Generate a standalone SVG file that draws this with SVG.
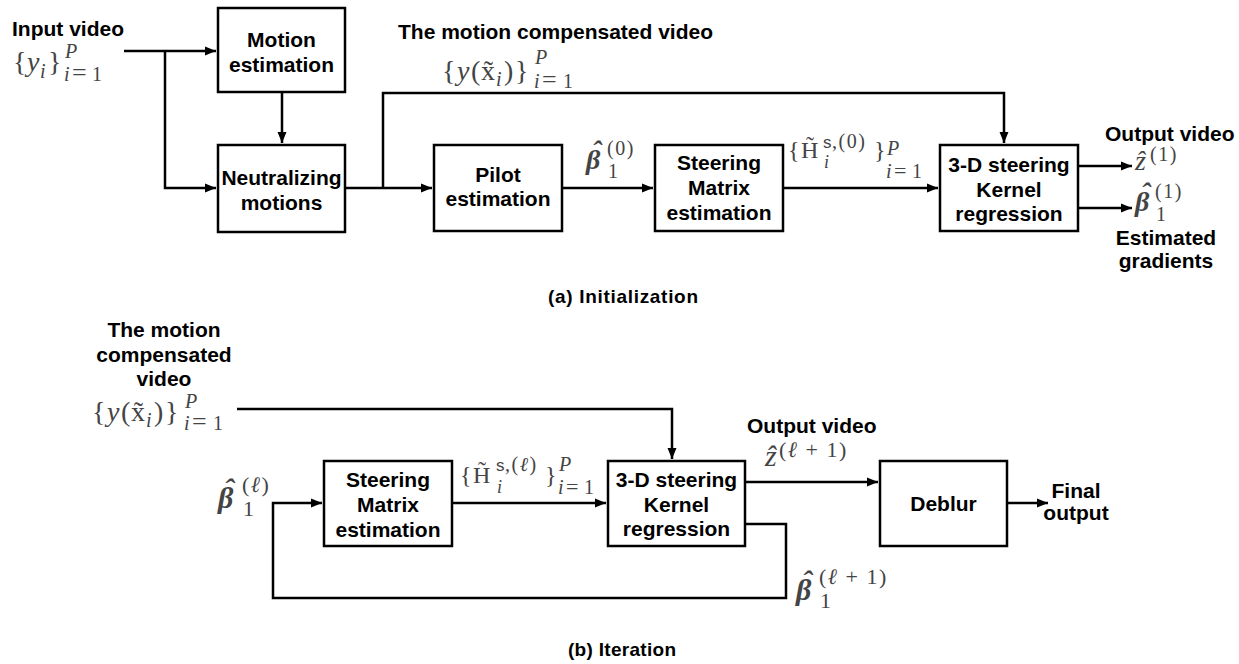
<svg xmlns="http://www.w3.org/2000/svg" width="1239" height="664" viewBox="0 0 1239 664">
<style>
.box{fill:#fff;stroke:#000;stroke-width:2.5}
.t{font-family:"Liberation Sans",Arial,sans-serif;font-size:21px;font-weight:bold;fill:#000;text-anchor:middle}
.l{font-family:"Liberation Sans",Arial,sans-serif;font-size:21px;font-weight:bold;fill:#000}
.cap{font-family:"Liberation Sans",Arial,sans-serif;font-size:19px;font-weight:bold;fill:#000}
.m{font-family:"Liberation Serif","DejaVu Serif",serif;fill:#444}
.it{font-style:italic}
.bi{font-style:italic;font-weight:bold}
.sf{font-family:"Liberation Sans",sans-serif}
.ls{letter-spacing:1.5px}
.c{fill:none;stroke:#000;stroke-width:2.5}
</style>
<defs>
<marker id="ah" markerUnits="userSpaceOnUse" markerWidth="12" markerHeight="10" refX="11" refY="5" orient="auto">
<path d="M0,0.5 L11,5 L0,9.5 z" fill="#000"/>
</marker>
</defs>
<rect width="1239" height="664" fill="#fff"/>

<g id="connectors">
<path class="c" d="M124,51 H216" marker-end="url(#ah)"/>
<path class="c" d="M165,51 V188 H216" marker-end="url(#ah)"/>
<path class="c" d="M282,92 V143" marker-end="url(#ah)"/>
<path class="c" d="M345,188 H432" marker-end="url(#ah)"/>
<path class="c" d="M383,188 V93 H1004 V143" marker-end="url(#ah)"/>
<path class="c" d="M562,188 H653" marker-end="url(#ah)"/>
<path class="c" d="M783,188 H938" marker-end="url(#ah)"/>
<path class="c" d="M1078,166 H1132" marker-end="url(#ah)"/>
<path class="c" d="M1078,208 H1132" marker-end="url(#ah)"/>
<path class="c" d="M237,409 H672 V459" marker-end="url(#ah)"/>
<path class="c" d="M745,524 H786 V598 H273 V503 H322" marker-end="url(#ah)"/>
<path class="c" d="M452,503 H606" marker-end="url(#ah)"/>
<path class="c" d="M745,482 H878" marker-end="url(#ah)"/>
<path class="c" d="M1007,503 H1048" marker-end="url(#ah)"/>
</g>

<g id="motion_estimation">
<rect class="box" x="218" y="8" width="127" height="84"/>
<text class="t" x="281.5" y="47">Motion</text>
<text class="t" x="281.5" y="72">estimation</text>
</g>
<g id="neutralizing_motions">
<rect class="box" x="218" y="145" width="127" height="87"/>
<text class="t" x="281.5" y="185">Neutralizing</text>
<text class="t" x="281.5" y="210">motions</text>
</g>
<g id="pilot_estimation">
<rect class="box" x="434" y="145" width="128" height="86"/>
<text class="t" x="498" y="182">Pilot</text>
<text class="t" x="498" y="206">estimation</text>
</g>
<g id="steering_a">
<rect class="box" x="655" y="145" width="128" height="86"/>
<text class="t" x="719" y="170">Steering</text>
<text class="t" x="719" y="195">Matrix</text>
<text class="t" x="719" y="220">estimation</text>
</g>
<g id="kernel_a">
<rect class="box" x="940" y="145" width="138" height="86"/>
<text class="t" x="1009" y="172">3-D steering</text>
<text class="t" x="1009" y="197">Kernel</text>
<text class="t" x="1009" y="221">regression</text>
</g>
<g id="steering_b">
<rect class="box" x="324" y="461" width="128" height="85"/>
<text class="t" x="388" y="487">Steering</text>
<text class="t" x="388" y="512">Matrix</text>
<text class="t" x="388" y="537">estimation</text>
</g>
<g id="kernel_b">
<rect class="box" x="608" y="461" width="137" height="85"/>
<text class="t" x="676.5" y="487">3-D steering</text>
<text class="t" x="676.5" y="512">Kernel</text>
<text class="t" x="676.5" y="536">regression</text>
</g>
<g id="deblur">
<rect class="box" x="880" y="461" width="127" height="85"/>
<text class="t" x="943.5" y="511">Deblur</text>
</g>

<g id="labels">
<text class="l" x="12" y="36">Input video</text>
<text class="l" x="398" y="39">The motion compensated video</text>
<text class="l" x="1105" y="141">Output video</text>
<text class="t" x="1166" y="245">Estimated</text>
<text class="t" x="1166" y="268">gradients</text>
<text class="cap" x="548" y="303" textLength="150">(a) Initialization</text>
<text class="t" x="164" y="337">The motion</text>
<text class="t" x="164" y="362">compensated</text>
<text class="t" x="164" y="386">video</text>
<text class="l" x="747" y="433">Output video</text>
<text class="t" x="1076" y="498">Final</text>
<text class="t" x="1076" y="520">output</text>
<text class="cap" x="568" y="656" textLength="108">(b) Iteration</text>
</g>

<g id="math">
<text class="m" font-size="28"><tspan x="13" y="71">{</tspan><tspan class="it" x="27" y="71">y</tspan><tspan class="it" x="40" y="78" font-size="20">i</tspan><tspan x="48" y="71">}</tspan><tspan class="it" x="65" y="58" font-size="20">P</tspan><tspan class="it" x="64" y="81" font-size="20">i</tspan><tspan x="72" y="81" font-size="26">=</tspan><tspan x="92" y="81" font-size="20">1</tspan></text>

<text class="m" font-size="28"><tspan x="442" y="80">{</tspan><tspan class="it" x="457" y="80">y</tspan><tspan x="471" y="80">(</tspan><tspan x="481" y="80">x̃</tspan><tspan class="it" x="496" y="86" font-size="20">i</tspan><tspan x="504" y="80">)</tspan><tspan x="515" y="80">}</tspan><tspan class="it" x="535" y="64" font-size="20">P</tspan><tspan class="it" x="534" y="88" font-size="20">i</tspan><tspan x="542" y="88" font-size="26">=</tspan><tspan x="563" y="88" font-size="20">1</tspan></text>

<text class="m" font-size="28"><tspan x="92" y="421">{</tspan><tspan class="it" x="107" y="421">y</tspan><tspan x="121" y="421">(</tspan><tspan x="131" y="421">x̃</tspan><tspan class="it" x="146" y="427" font-size="20">i</tspan><tspan x="154" y="421">)</tspan><tspan x="165" y="421">}</tspan><tspan class="it" x="185" y="408" font-size="20">P</tspan><tspan class="it" x="184" y="430" font-size="20">i</tspan><tspan x="192" y="430" font-size="26">=</tspan><tspan x="213" y="430" font-size="20">1</tspan></text>

<text class="m" font-size="28"><tspan class="bi" x="586 592" y="169 160">βˆ</tspan><tspan class="ls" x="607" y="155" font-size="20">(0)</tspan><tspan x="608" y="178" font-size="20">1</tspan></text>

<text class="m" font-size="24"><tspan x="788" y="158">{</tspan><tspan x="801" y="158">H̃</tspan><tspan class="sf" x="823" y="148" font-size="17">s</tspan><tspan class="ls" x="832" y="148" font-size="20">,(0)</tspan><tspan class="it" x="824" y="168" font-size="18">i</tspan><tspan x="874" y="158">}</tspan><tspan class="it" x="887" y="155" font-size="20">P</tspan><tspan class="it" x="886" y="178" font-size="20">i</tspan><tspan x="894" y="178" font-size="22">=</tspan><tspan x="912" y="178" font-size="20">1</tspan></text>

<text class="m" font-size="28"><tspan class="it" x="1135" y="170">ẑ</tspan><tspan class="ls" x="1150" y="161" font-size="20">(1)</tspan></text>

<text class="m" font-size="28"><tspan class="bi" x="1135 1141" y="211 202">βˆ</tspan><tspan class="ls" x="1155" y="198" font-size="20">(1)</tspan><tspan x="1156" y="221" font-size="20">1</tspan></text>

<text class="m" font-size="30"><tspan class="bi" x="218 224" y="508 499">βˆ</tspan><tspan class="ls" x="242" y="492" font-size="22">(<tspan class="it">ℓ</tspan>)</tspan><tspan x="243" y="516" font-size="22">1</tspan></text>

<text class="m" font-size="24"><tspan x="460" y="483">{</tspan><tspan x="473" y="483">H̃</tspan><tspan class="sf" x="496" y="471" font-size="17">s</tspan><tspan class="ls" x="505" y="471" font-size="20">,(<tspan class="it">ℓ</tspan>)</tspan><tspan class="it" x="497" y="493" font-size="18">i</tspan><tspan x="545" y="483">}</tspan><tspan class="it" x="559" y="471" font-size="20">P</tspan><tspan class="it" x="558" y="494" font-size="20">i</tspan><tspan x="566" y="494" font-size="22">=</tspan><tspan x="584" y="494" font-size="20">1</tspan></text>

<text class="m" font-size="30"><tspan class="it" x="765" y="466">ẑ</tspan><tspan class="ls" x="779" y="457" font-size="22">(<tspan class="it">ℓ</tspan> + 1)</tspan></text>

<text class="m" font-size="30"><tspan class="bi" x="796 802" y="600 591">βˆ</tspan><tspan class="ls" x="819" y="584" font-size="22">(<tspan class="it">ℓ</tspan> + 1)</tspan><tspan x="820" y="608" font-size="22">1</tspan></text>
</g>
</svg>
